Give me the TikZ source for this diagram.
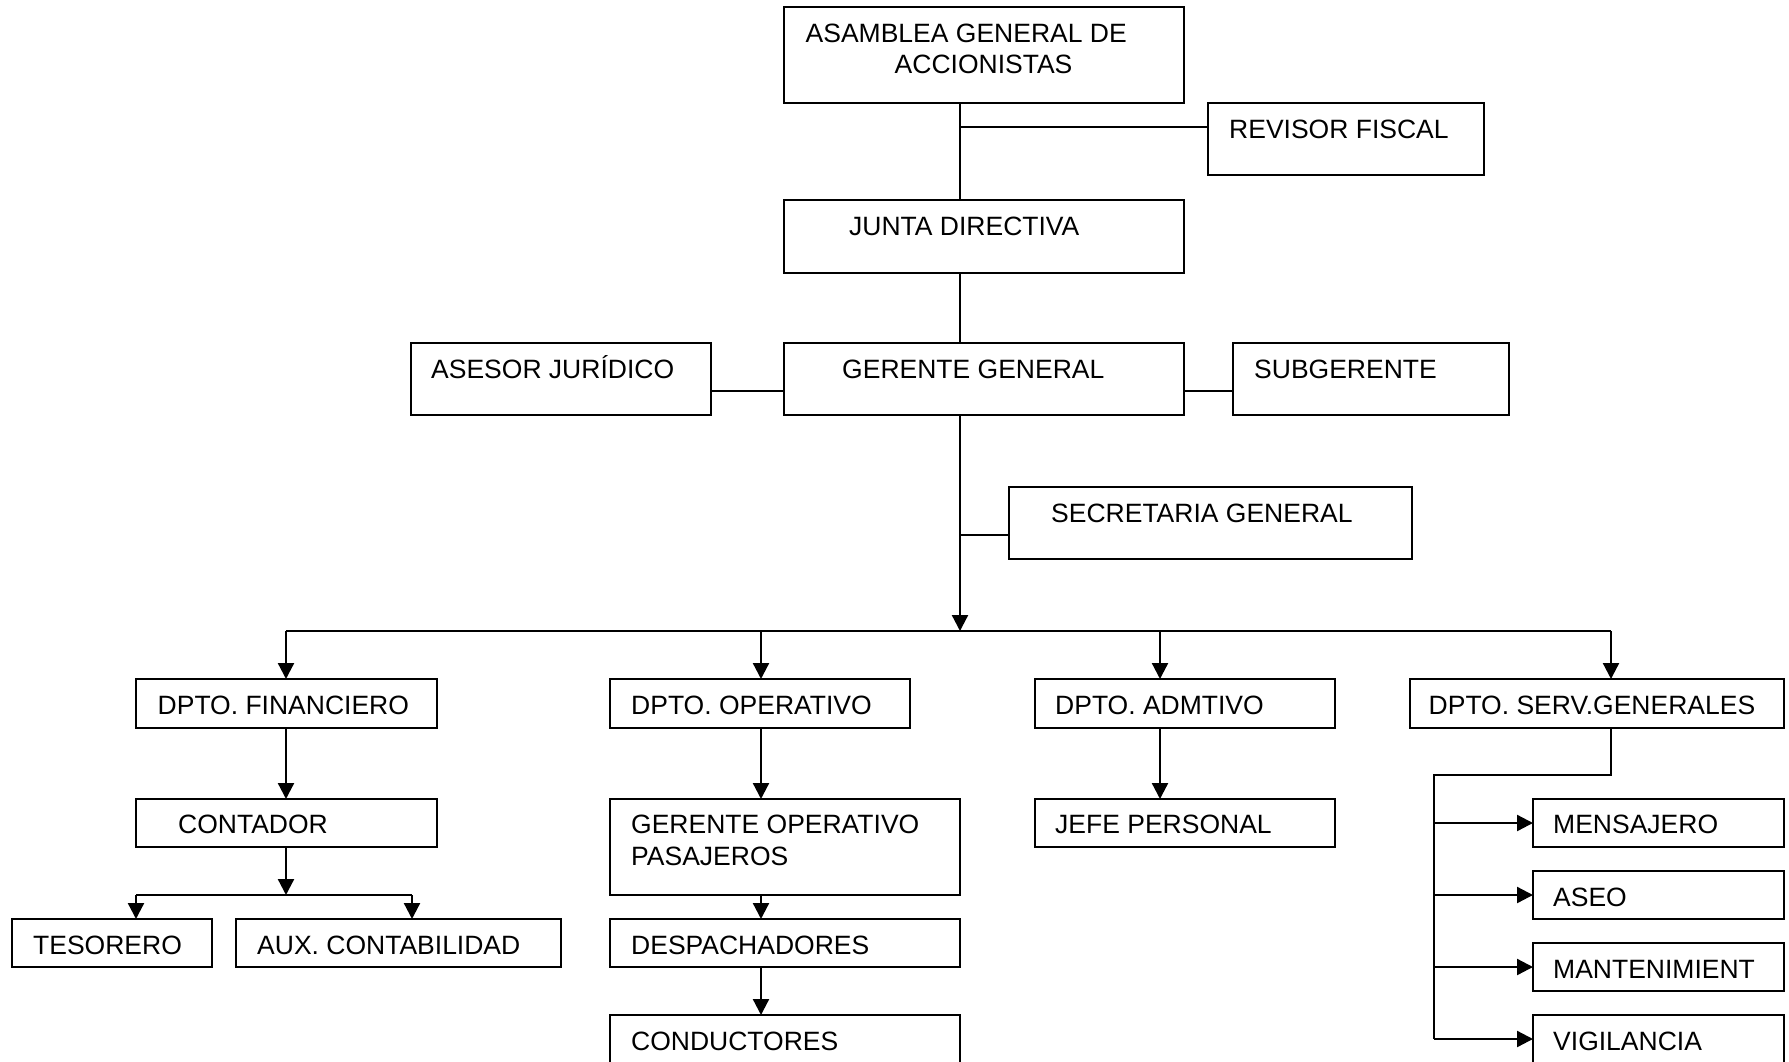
\documentclass[tikz,border=0pt]{standalone}
\usepackage{fontspec}
\setmainfont{Liberation Sans}
\usetikzlibrary{arrows.meta}
\begin{document}
\begin{tikzpicture}[x=1pt,y=-1pt,
  box/.style={draw,line width=2.4pt,outer sep=0pt,inner sep=0pt,anchor=north west},
  lbl/.style={inner sep=0pt,anchor=base west,font=\fontsize{26.5}{31.8}\selectfont},
  link/.style={line width=2.3pt},
  arr/.style={line width=2.3pt,-{Triangle[width=16pt,length=16pt]}}]
\useasboundingbox[fill=white] (0,0) rectangle (1789,1062);

% boxes: upper levels
\node[box,minimum width=400pt,minimum height=96pt] (asam) at (784,7) {};
\node[box,minimum width=276pt,minimum height=72pt] (rev) at (1208,103) {};
\node[box,minimum width=400pt,minimum height=73pt] (junta) at (784,200) {};
\node[box,minimum width=400pt,minimum height=72pt] (ger) at (784,343) {};
\node[box,minimum width=300pt,minimum height=72pt] (ases) at (411,343) {};
\node[box,minimum width=276pt,minimum height=72pt] (subg) at (1233,343) {};
\node[box,minimum width=403pt,minimum height=72pt] (secr) at (1009,487) {};

% departments
\node[box,minimum width=301pt,minimum height=49pt] (dfin) at (136,679) {};
\node[box,minimum width=300pt,minimum height=49pt] (dope) at (610,679) {};
\node[box,minimum width=300pt,minimum height=49pt] (dadm) at (1035,679) {};
\node[box,minimum width=374pt,minimum height=49pt] (dser) at (1410,679) {};

% lower levels
\node[box,minimum width=301pt,minimum height=48pt] (cont) at (136,799) {};
\node[box,minimum width=200pt,minimum height=48pt] (teso) at (12,919) {};
\node[box,minimum width=325pt,minimum height=48pt] (auxc) at (236,919) {};
\node[box,minimum width=350pt,minimum height=96pt] (gope) at (610,799) {};
\node[box,minimum width=350pt,minimum height=48pt] (desp) at (610,919) {};
\node[box,minimum width=350pt,minimum height=62pt] (cond) at (610,1015) {};
\node[box,minimum width=300pt,minimum height=48pt] (jefe) at (1035,799) {};
\node[box,minimum width=251pt,minimum height=48pt] (mens) at (1533,799) {};
\node[box,minimum width=251pt,minimum height=48pt] (aseo) at (1533,871) {};
\node[box,minimum width=251pt,minimum height=48pt] (mant) at (1533,943) {};
\node[box,minimum width=251pt,minimum height=62pt] (vigi) at (1533,1015) {};

% texts
\node[lbl] (t-asam1) at (805.5,42.5) {ASAMBLEA GENERAL DE};
\node[lbl] (t-asam2) at (894.5,73.5) {ACCIONISTAS};
\node[lbl] (t-rev) at (1229,138.5) {REVISOR FISCAL};
\node[lbl] (t-junta) at (849,235.5) {JUNTA DIRECTIVA};
\node[lbl] (t-ases) at (431,378) {ASESOR JURÍDICO};
\node[lbl] (t-ger) at (842,378) {GERENTE GENERAL};
\node[lbl] (t-subg) at (1254,378) {SUBGERENTE};
\node[lbl] (t-secr) at (1051,522.5) {SECRETARIA GENERAL};
\node[lbl] (t-dfin) at (157.5,714.5) {DPTO. FINANCIERO};
\node[lbl] (t-dope) at (631,714.5) {DPTO. OPERATIVO};
\node[lbl] (t-dadm) at (1055,714.5) {DPTO. ADMTIVO};
\node[lbl] (t-dser) at (1428.5,714.5) {DPTO. SERV.GENERALES};
\node[lbl] (t-cont) at (178,833.5) {CONTADOR};
\node[lbl] (t-gope1) at (631,833.5) {GERENTE OPERATIVO};
\node[lbl] (t-gope2) at (631,865.5) {PASAJEROS};
\node[lbl] (t-jefe) at (1055,833.5) {JEFE PERSONAL};
\node[lbl] (t-mens) at (1553,833.5) {MENSAJERO};
\node[lbl] (t-teso) at (33,954.5) {TESORERO};
\node[lbl] (t-auxc) at (257,954.5) {AUX. CONTABILIDAD};
\node[lbl] (t-desp) at (631,954.5) {DESPACHADORES};
\node[lbl] (t-aseo) at (1553,906.5) {ASEO};
\node[lbl] (t-mant) at (1553,978.5) {MANTENIMIENT};
\node[lbl] (t-cond) at (631,1050.5) {CONDUCTORES};
\node[lbl] (t-vigi) at (1553,1050.5) {VIGILANCIA};

% junction points
\coordinate (spine) at (960,0);
\coordinate (jrev) at (960,127);
\coordinate (jside) at (960,391);
\coordinate (jsec) at (960,535);
\coordinate (bus) at (960,631);
\coordinate (jcont) at (286,895);
\coordinate (jser) at (1611,775);
\coordinate (rail) at (1434,775);

% upper connectors
\draw[link] (asam.south -| spine) -- (junta.north -| spine);
\draw[link] (jrev) -- (jrev -| rev.west);
\draw[link] (junta.south -| spine) -- (ger.north -| spine);
\draw[link] (ases.east |- jside) -- (ger.west |- jside);
\draw[link] (ger.east |- jside) -- (subg.west |- jside);
\draw[arr] (ger.south -| spine) -- (bus);
\draw[link] (jsec) -- (jsec -| secr.west);

% distribution bus
\draw[link] (bus -| 286,0) -- (bus -| 1611,0);
\draw[arr] (bus -| 286,0) -- (dfin.north -| 286,0);
\draw[arr] (bus -| 761,0) -- (dope.north -| 761,0);
\draw[arr] (bus -| 1160,0) -- (dadm.north -| 1160,0);
\draw[arr] (bus -| 1611,0) -- (dser.north -| 1611,0);

% financial branch
\draw[arr] (dfin.south -| jcont) -- (cont.north -| jcont);
\draw[arr] (cont.south -| jcont) -- (jcont);
\draw[link] (jcont -| 136,0) -- (jcont -| 412,0);
\draw[arr] (jcont -| 136,0) -- (teso.north -| 136,0);
\draw[arr] (jcont -| 412,0) -- (auxc.north -| 412,0);

% operative branch
\draw[arr] (dope.south -| 761,0) -- (gope.north -| 761,0);
\draw[arr] (gope.south -| 761,0) -- (desp.north -| 761,0);
\draw[arr] (desp.south -| 761,0) -- (cond.north -| 761,0);

% administrative branch
\draw[arr] (dadm.south -| 1160,0) -- (jefe.north -| 1160,0);

% general services branch
\draw[link] (dser.south -| jser) -- (jser) -- (rail) -- (rail |- 0,1039);
\draw[arr] (rail |- 0,823) -- (mens.west |- 0,823);
\draw[arr] (rail |- 0,895) -- (aseo.west |- 0,895);
\draw[arr] (rail |- 0,967) -- (mant.west |- 0,967);
\draw[arr] (rail |- 0,1039) -- (vigi.west |- 0,1039);
\end{tikzpicture}
\end{document}
